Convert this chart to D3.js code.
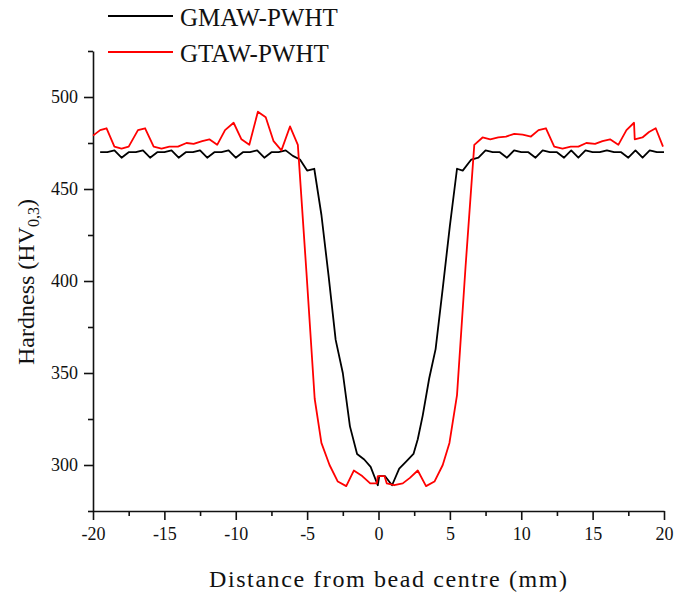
<!DOCTYPE html>
<html>
<head>
<meta charset="utf-8">
<script src="https://cdn.jsdelivr.net/npm/d3@7"></script>
<style>
  body { margin: 0; background: #fff; }
  svg text { font-family: "Liberation Serif", "Times New Roman", serif; fill: #111; }
</style>
</head>
<body>
<div id="chart"></div>
<script>
// distance from bead centre (mm) and hardness values
var gmawDist = [-19.5, -19, -18.5, -18, -17.5, -17, -16.5, -16, -15.5, -15, -14.5, -14,
  -13.5, -13, -12.5, -12, -11.5, -11, -10.5, -10, -9.5, -9, -8.5, -8, -7.5, -7, -6.5, -6,
  -5.5, -5, -4.5, -4, -3.5, -3, -2.5, -2, -1.5, -1, -0.55, -0.05, 0.05, 0.45, 0.95, 1.45,
  1.95, 2.45, 2.75, 3.1, 3.55, 4, 4.5, 5, 5.5, 5.9, 6.5, 7, 7.5, 8, 8.5, 9, 9.5, 10, 10.5,
  11, 11.5, 12, 12.5, 13, 13.5, 14, 14.5, 15, 15.5, 16, 16.5, 17, 17.5, 18, 18.5, 19, 19.5, 20];
var gmawHv = [470, 470, 471, 467, 470, 470, 471, 467, 470, 470, 471, 467,
  470, 470, 471, 467, 470, 470, 471, 467, 470, 470, 471, 467, 470, 470, 471, 468,
  466, 460, 461, 436, 403, 368, 350, 321, 306, 303, 299, 289, 294, 294, 289, 298,
  302, 306, 314, 327, 347, 363, 396, 430, 461, 460, 466, 467, 471, 470, 470, 467, 471, 470, 470,
  467, 471, 470, 470, 467, 471, 467, 471, 470, 470, 471, 470, 470, 467, 471, 467, 471, 470, 470];

var gtawDist = [-20, -19.5, -19.05, -18.5, -18, -17.5, -16.85, -16.35, -15.75, -15.2, -14.65,
  -14.05, -13.45, -12.95, -12.35, -11.85, -11.3, -10.75, -10.15, -9.6, -9.05, -8.45, -7.9,
  -7.35, -6.8, -6.2, -5.65, -5.05, -4.47, -4, -3.43, -2.85, -2.26, -1.73, -1.14, -0.58, -0.12,
  -0.05, 0.42, 0.58, 1.1, 1.7, 2.2, 2.75, 3.33, 3.92, 4.5, 4.97, 5.5, 6.1, 6.71, 7.29, 7.83,
  8.39, 8.93, 9.51, 10.1, 10.68, 11.21, 11.73, 12.31, 12.89, 13.47, 14, 14.56, 15.17, 15.69,
  16.22, 16.8, 17.37, 17.9, 17.95, 18.49, 18.95, 19.42, 19.93];
var gtawHv = [479, 482, 483, 473, 472, 473, 482, 483, 473, 472, 473,
  473, 475, 474.5, 476, 477, 474, 482, 486, 477, 474, 492, 489,
  476, 471, 484, 474, 405, 336, 312, 300, 291, 288.5, 297, 294, 290, 290,
  294, 294, 290, 289, 290, 293, 297, 288.5, 291, 300, 312, 338, 408, 474, 478, 477,
  478, 478.5, 480, 479.5, 478.5, 482, 483, 473, 472, 473, 473, 475, 474.5, 476,
  477, 474, 482, 486, 477, 478, 481, 483, 473];

var xTicks = [-20, -15, -10, -5, 0, 5, 10, 15, 20];
var yTicks = [300, 350, 400, 450, 500];
var series = [
  { name: "GMAW-PWHT", color: "#000000", dist: gmawDist, hv: gmawHv },
  { name: "GTAW-PWHT", color: "#ff0000", dist: gtawDist, hv: gtawHv }
];

var width = 688, height = 596;
var serif = "'Liberation Serif', 'Times New Roman', serif";

var svg = d3.select("#chart").append("svg")
    .attr("width", width)
    .attr("height", height);

var x = d3.scaleLinear().domain([-20, 20]).range([93, 664]);
var y = d3.scaleLinear().domain([275, 525]).range([511, 51]);

// minor ticks first, then major ticks on top
svg.append("g")
    .attr("transform", "translate(0,511)")
    .call(d3.axisBottom(x).tickValues(d3.range(-17.5, 20, 5)).tickSize(5).tickFormat(""))
    .call(function(g) { g.select(".domain").remove(); });
svg.append("g")
    .attr("transform", "translate(93,0)")
    .call(d3.axisLeft(y).tickValues([275, 325, 375, 425, 475, 525]).tickSize(5).tickFormat(""))
    .call(function(g) { g.select(".domain").remove(); });

var plain = function(d) { return String(d); };   // hyphen minus like the original

var xAxis = svg.append("g")
    .attr("transform", "translate(0,511)")
    .call(d3.axisBottom(x).tickValues(xTicks).tickSize(9).tickPadding(7).tickSizeOuter(0).tickFormat(plain));
var yAxis = svg.append("g")
    .attr("transform", "translate(93,0)")
    .call(d3.axisLeft(y).tickValues(yTicks).tickSize(9).tickPadding(6).tickSizeOuter(0).tickFormat(plain));

[xAxis, yAxis].forEach(function(g) {
  g.attr("font-family", serif).attr("font-size", 18);
  g.selectAll("text").attr("fill", "#111");
});
svg.selectAll("g path, g line").attr("stroke", "#111").attr("stroke-width", 1.6);

var line = d3.line()
    .x(function(d) { return x(d[0]); })
    .y(function(d) { return y(d[1]); });

// draw black first so red sits on top like the original
series.forEach(function(s) {
  svg.append("path")
      .datum(d3.zip(s.dist, s.hv))
      .attr("fill", "none")
      .attr("stroke", s.color)
      .attr("stroke-width", 1.8)
      .attr("stroke-linejoin", "round")
      .attr("d", line);
});

// legend
var legend = svg.selectAll(".legend")
    .data(series)
    .enter().append("g")
    .attr("class", "legend")
    .attr("transform", function(d, i) { return "translate(108," + (16 + i * 36) + ")"; });
legend.append("line")
    .attr("x1", 0).attr("x2", 65)
    .attr("stroke", function(d) { return d.color; })
    .attr("stroke-width", 1.8);
legend.append("text")
    .attr("x", 72).attr("y", 10)
    .attr("font-family", serif)
    .style("font-size", "25px")
    .text(function(d) { return d.name; });

// axis titles
svg.append("text")
    .attr("x", 388).attr("y", 587)
    .attr("text-anchor", "middle")
    .attr("textLength", 358)
    .attr("font-family", serif)
    .style("font-size", "24px")
    .text("Distance from bead centre (mm)");

var yTitle = svg.append("text")
    .attr("transform", "translate(34,282) rotate(-90)")
    .attr("text-anchor", "middle")
    .attr("font-family", serif)
    .style("font-size", "24px");
yTitle.append("tspan").text("Hardness (HV");
yTitle.append("tspan").attr("dy", 5).style("font-size", "16px").text("0,3");
yTitle.append("tspan").attr("dy", -5).text(")");
</script>
</body>
</html>
